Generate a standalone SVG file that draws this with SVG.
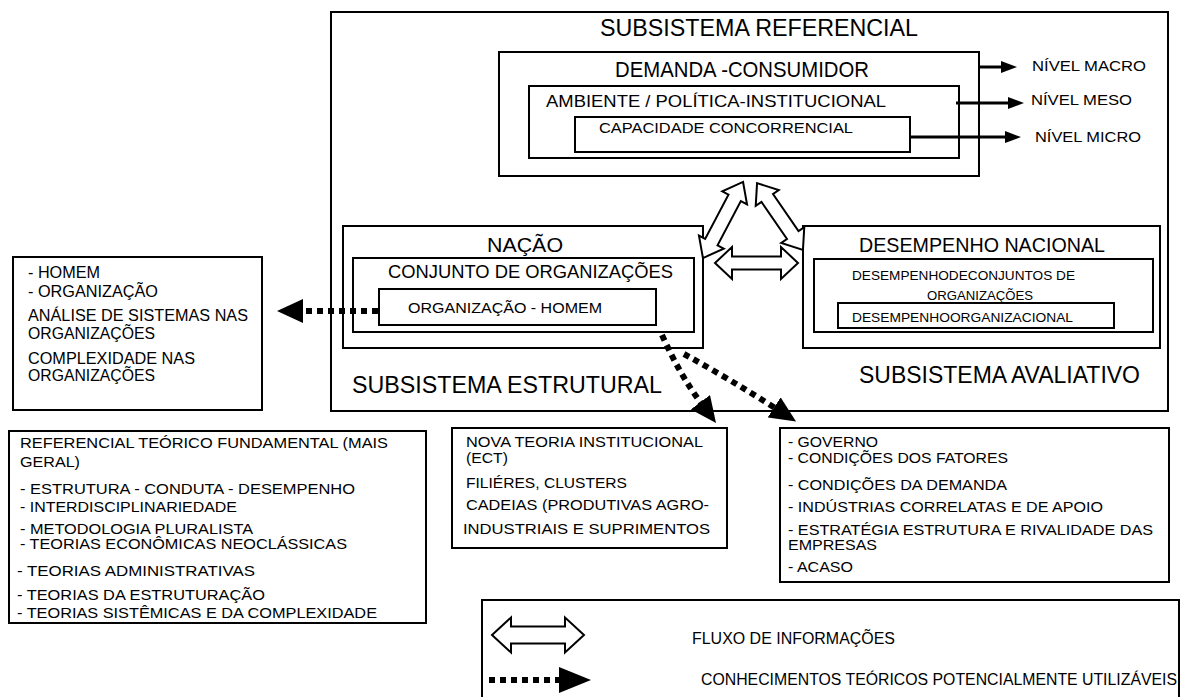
<svg xmlns="http://www.w3.org/2000/svg" width="1180" height="697" viewBox="0 0 1180 697">
<style>
.box{fill:none;stroke:#000;stroke-width:2}
text{font-family:"Liberation Sans",Arial,sans-serif;fill:#000}
.dot{fill:none;stroke:#000;stroke-width:6;stroke-dasharray:6 5}
.lvl{fill:none;stroke:#000;stroke-width:3}
.hollow{fill:#fff;stroke:#000;stroke-width:2;stroke-linejoin:miter}
</style>
<defs>
<marker id="dotHead" viewBox="0 0 26 24" markerWidth="26" markerHeight="24" markerUnits="userSpaceOnUse" refX="1" refY="12" orient="auto">
<path d="M0,0 L26,12 L0,24 Z" fill="#000"/>
</marker>
<marker id="dotHeadBig" viewBox="0 0 32 26" markerWidth="32" markerHeight="26" markerUnits="userSpaceOnUse" refX="1" refY="13" orient="auto">
<path d="M0,0 L32,13 L0,26 Z" fill="#000"/>
</marker>
<marker id="lvlHead" viewBox="0 0 16 12" markerWidth="16" markerHeight="12" markerUnits="userSpaceOnUse" refX="1" refY="6" orient="auto">
<path d="M0,0 L16,6 L0,12 Z" fill="#000"/>
</marker>
</defs>

<g id="subsistema-referencial">
<rect class="box" x="331" y="12" width="837" height="399"/>
<text x="600" y="36" font-size="24" textLength="318" lengthAdjust="spacingAndGlyphs">SUBSISTEMA REFERENCIAL</text>
</g>
<g id="demanda">
<rect class="box" x="499" y="52" width="480" height="124"/>
<text x="615" y="77" font-size="22" textLength="254" lengthAdjust="spacingAndGlyphs">DEMANDA -CONSUMIDOR</text>
</g>
<g id="ambiente">
<rect class="box" x="529" y="86" width="430" height="72"/>
<text x="546" y="107" font-size="17" textLength="340" lengthAdjust="spacingAndGlyphs">AMBIENTE / POLÍTICA-INSTITUCIONAL</text>
</g>
<g id="capacidade">
<rect class="box" x="575" y="117" width="335" height="35"/>
<text x="599" y="133" font-size="14" textLength="254" lengthAdjust="spacingAndGlyphs">CAPACIDADE CONCORRENCIAL</text>
</g>
<g id="nivel-macro"><text x="1032" y="71" font-size="14" textLength="114" lengthAdjust="spacingAndGlyphs">NÍVEL MACRO</text></g>
<g id="nivel-meso"><text x="1031" y="105" font-size="14" textLength="101" lengthAdjust="spacingAndGlyphs">NÍVEL MESO</text></g>
<g id="nivel-micro"><text x="1035" y="142" font-size="14" textLength="106" lengthAdjust="spacingAndGlyphs">NÍVEL MICRO</text></g>

<g id="nacao">
<rect class="box" x="343" y="226" width="360" height="122"/>
<text x="487" y="252" font-size="20" textLength="76" lengthAdjust="spacingAndGlyphs">NAÇÃO</text>
</g>
<g id="conjunto">
<rect class="box" x="353" y="258" width="341" height="74"/>
<text x="388" y="278" font-size="18" textLength="285" lengthAdjust="spacingAndGlyphs">CONJUNTO DE ORGANIZAÇÕES</text>
</g>
<g id="organizacao-homem">
<rect class="box" x="379" y="289" width="277" height="36"/>
<text x="408" y="313" font-size="15" textLength="194" lengthAdjust="spacingAndGlyphs">ORGANIZAÇÃO - HOMEM</text>
</g>
<g id="subsistema-estrutural">
<text x="352" y="393" font-size="23" textLength="310" lengthAdjust="spacingAndGlyphs">SUBSISTEMA ESTRUTURAL</text>
</g>

<g id="desempenho-nacional">
<rect class="box" x="803" y="226" width="357" height="122"/>
<text x="859" y="252" font-size="20" textLength="246" lengthAdjust="spacingAndGlyphs">DESEMPENHO NACIONAL</text>
</g>
<g id="desempenho-conjuntos">
<rect class="box" x="814" y="259" width="339" height="73"/>
<text x="852" y="280" font-size="13" textLength="223" lengthAdjust="spacingAndGlyphs">DESEMPENHODECONJUNTOS DE</text>
<text x="927" y="300" font-size="13" textLength="106" lengthAdjust="spacingAndGlyphs">ORGANIZAÇÕES</text>
</g>
<g id="desempenho-organizacional">
<rect class="box" x="838" y="303" width="276" height="25"/>
<text x="852" y="322" font-size="13" textLength="221" lengthAdjust="spacingAndGlyphs">DESEMPENHOORGANIZACIONAL</text>
</g>
<g id="subsistema-avaliativo">
<text x="859" y="383" font-size="23" textLength="281" lengthAdjust="spacingAndGlyphs">SUBSISTEMA AVALIATIVO</text>
</g>

<g id="homem-organizacao">
<rect class="box" x="13" y="257" width="249" height="153"/>
<text x="28" y="278" font-size="16" textLength="72" lengthAdjust="spacingAndGlyphs">- HOMEM</text>
<text x="28" y="297" font-size="16" textLength="130" lengthAdjust="spacingAndGlyphs">- ORGANIZAÇÃO</text>
<text x="28" y="321" font-size="16" textLength="220" lengthAdjust="spacingAndGlyphs">ANÁLISE  DE SISTEMAS NAS</text>
<text x="28" y="339" font-size="16" textLength="127" lengthAdjust="spacingAndGlyphs">ORGANIZAÇÕES</text>
<text x="28" y="364" font-size="16" textLength="167" lengthAdjust="spacingAndGlyphs">COMPLEXIDADE NAS</text>
<text x="28" y="381" font-size="16" textLength="127" lengthAdjust="spacingAndGlyphs">ORGANIZAÇÕES</text>
</g>

<g id="referencial-teorico">
<rect class="box" x="9" y="431" width="417" height="192"/>
<text x="20" y="448" font-size="15" textLength="368" lengthAdjust="spacingAndGlyphs">REFERENCIAL TEÓRICO FUNDAMENTAL (MAIS</text>
<text x="20" y="467" font-size="15" textLength="60" lengthAdjust="spacingAndGlyphs">GERAL)</text>
<text x="20" y="494" font-size="15" textLength="335" lengthAdjust="spacingAndGlyphs">-  ESTRUTURA - CONDUTA - DESEMPENHO</text>
<text x="20" y="512" font-size="15" textLength="217" lengthAdjust="spacingAndGlyphs">- INTERDISCIPLINARIEDADE</text>
<text x="20" y="534" font-size="15" textLength="233" lengthAdjust="spacingAndGlyphs">-  METODOLOGIA PLURALISTA</text>
<text x="20" y="549" font-size="15" textLength="327" lengthAdjust="spacingAndGlyphs">-  TEORIAS ECONÔMICAS NEOCLÁSSICAS</text>
<text x="17" y="576" font-size="15" textLength="238" lengthAdjust="spacingAndGlyphs">-  TEORIAS ADMINISTRATIVAS</text>
<text x="17" y="600" font-size="15" textLength="248" lengthAdjust="spacingAndGlyphs">-  TEORIAS DA ESTRUTURAÇÃO</text>
<text x="17" y="618" font-size="15" textLength="360" lengthAdjust="spacingAndGlyphs">-  TEORIAS SISTÊMICAS E DA COMPLEXIDADE</text>
</g>

<g id="nova-teoria">
<rect class="box" x="452" y="428" width="275" height="120"/>
<text x="466" y="447" font-size="15" textLength="237" lengthAdjust="spacingAndGlyphs">NOVA TEORIA INSTITUCIONAL</text>
<text x="466" y="463" font-size="15" textLength="42" lengthAdjust="spacingAndGlyphs">(ECT)</text>
<text x="466" y="488" font-size="15" textLength="161" lengthAdjust="spacingAndGlyphs">FILIÉRES, CLUSTERS</text>
<text x="466" y="510" font-size="15" textLength="243" lengthAdjust="spacingAndGlyphs">CADEIAS (PRODUTIVAS AGRO-</text>
<text x="463" y="534" font-size="15" textLength="247" lengthAdjust="spacingAndGlyphs">INDUSTRIAIS E SUPRIMENTOS</text>
</g>

<g id="governo">
<rect class="box" x="780" y="428" width="389" height="154"/>
<text x="788" y="447" font-size="15" textLength="90" lengthAdjust="spacingAndGlyphs">- GOVERNO</text>
<text x="788" y="463" font-size="15" textLength="220" lengthAdjust="spacingAndGlyphs">- CONDIÇÕES DOS FATORES</text>
<text x="788" y="490" font-size="15" textLength="219" lengthAdjust="spacingAndGlyphs">- CONDIÇÕES DA DEMANDA</text>
<text x="788" y="512" font-size="15" textLength="315" lengthAdjust="spacingAndGlyphs">-  INDÚSTRIAS CORRELATAS E DE APOIO</text>
<text x="788" y="535" font-size="15" textLength="365" lengthAdjust="spacingAndGlyphs">- ESTRATÉGIA ESTRUTURA E RIVALIDADE DAS</text>
<text x="788" y="550" font-size="15" textLength="89" lengthAdjust="spacingAndGlyphs">EMPRESAS</text>
<text x="788" y="572" font-size="15" textLength="65" lengthAdjust="spacingAndGlyphs">- ACASO</text>
</g>

<g id="legenda">
<rect class="box" x="482" y="600" width="697" height="100"/>
<path class="hollow" d="M492,635 L511,617.5 L511,626.5 L565,626.5 L565,617.5 L584,635 L565,652.5 L565,643.5 L511,643.5 L511,652.5 Z"/>
<text x="692" y="644" font-size="16" textLength="203" lengthAdjust="spacingAndGlyphs">FLUXO DE INFORMAÇÕES</text>
<path class="dot" d="M489,680 L560,680" marker-end="url(#dotHeadBig)"/>
<text x="701" y="685" font-size="16" textLength="476" lengthAdjust="spacingAndGlyphs">CONHECIMENTOS TEÓRICOS POTENCIALMENTE UTILIZÁVEIS</text>
</g>

<g id="connectors">
<path class="lvl" d="M979,67 L1002,67" marker-end="url(#lvlHead)"/>
<path class="lvl" d="M956,103 L1009,103" marker-end="url(#lvlHead)"/>
<path class="lvl" d="M910,137 L1006,137" marker-end="url(#lvlHead)"/>
<path class="hollow" transform="translate(756.5,263)" d="M-41.5,0 L-24.5,-16 L-24.5,-6.5 L24.5,-6.5 L24.5,-16 L41.5,0 L24.5,16 L24.5,6.5 L-24.5,6.5 L-24.5,16 Z"/>
<path class="hollow" transform="translate(723,220) rotate(-62.2)" d="M-43,0 L-25,-14 L-25,-7 L25,-7 L25,-14 L43,0 L25,14 L25,7 L-25,7 L-25,14 Z"/>
<path class="hollow" transform="translate(780,216.5) rotate(55.5)" d="M-40.5,0 L-22.5,-14 L-22.5,-7 L22.5,-7 L22.5,-14 L40.5,0 L22.5,14 L22.5,7 L-22.5,7 L-22.5,14 Z"/>
<path class="dot" d="M378,311 L302,311" marker-end="url(#dotHead)"/>
<path class="dot" d="M662,335 Q680,375 701,403" marker-end="url(#dotHead)"/>
<path class="dot" d="M684,354 Q728,378 775,408" marker-end="url(#dotHead)"/>
</g>
</svg>
